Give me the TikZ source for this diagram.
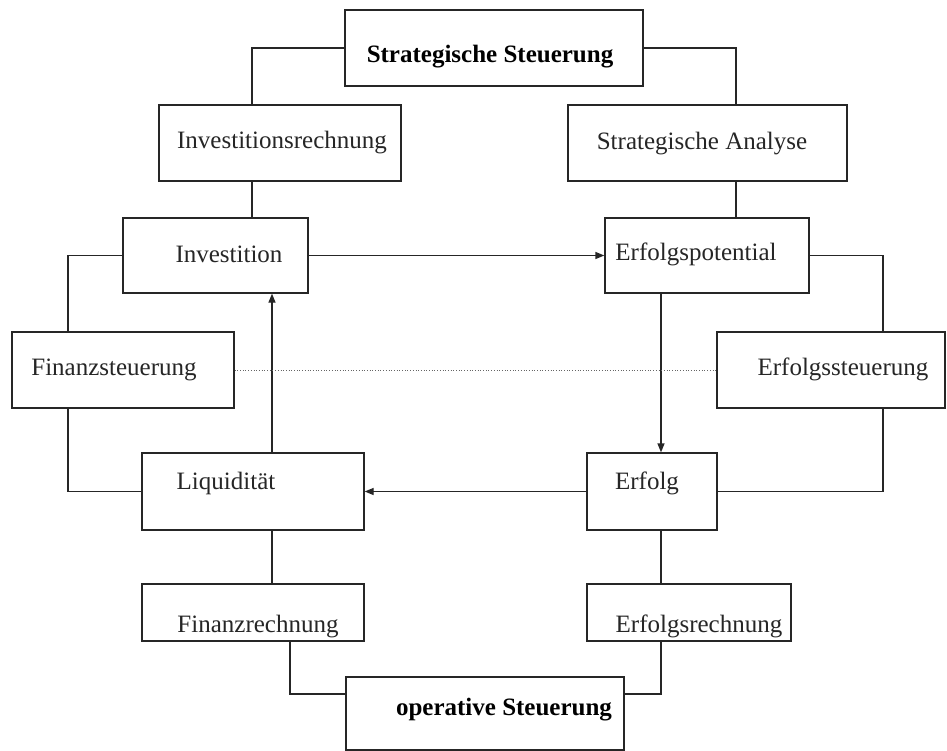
\documentclass[tikz,border=0pt]{standalone}
\usepackage{fontspec}
\setmainfont{Liberation Serif}
\usetikzlibrary{arrows.meta}
\begin{document}
\begin{tikzpicture}[x=1pt,y=-1pt,
  box/.style={draw=black!85,line width=1.3pt,rectangle,inner sep=0pt},
  lbl/.style={anchor=base,inner sep=0pt,font=\fontsize{25}{30}\selectfont,text=black!85},
  blbl/.style={lbl,font=\fontsize{25}{30}\selectfont\bfseries,text=black},
  conn/.style={draw=black!85,line width=1.3pt},
  arr/.style={conn,-{Triangle[length=9pt,width=7pt]}},
  dot/.style={draw=black!60,line width=0.7pt,dotted}]
\useasboundingbox (0,0) rectangle (947,751);
\fill[white] (0,0) rectangle (947,751);

% boxes
\node[box,minimum width=298pt,minimum height=76pt] (ss) at (494,48) {};
\node[box,minimum width=242pt,minimum height=76pt] (ir) at (280,143) {};
\node[box,minimum width=279pt,minimum height=76pt] (sa) at (707.5,143) {};
\node[box,minimum width=185pt,minimum height=75pt] (inv) at (215.5,255.5) {};
\node[box,minimum width=204pt,minimum height=75pt] (ep) at (707,255.5) {};
\node[box,minimum width=222pt,minimum height=76pt] (fs) at (123,370) {};
\node[box,minimum width=228pt,minimum height=76pt] (es) at (831,370) {};
\node[box,minimum width=222pt,minimum height=77pt] (liq) at (253,491.5) {};
\node[box,minimum width=130pt,minimum height=77pt] (erf) at (652,491.5) {};
\node[box,minimum width=222pt,minimum height=57pt] (fr) at (253,612.5) {};
\node[box,minimum width=204pt,minimum height=57pt] (er) at (689,612.5) {};
\node[box,minimum width=278pt,minimum height=73pt] (os) at (485,713.5) {};

% texts
\node[blbl] (t-ss) at (490,63) {Strategische Steuerung};
\node[lbl] (t-ir) at (282,149) {Investitionsrechnung};
\node[lbl] (t-sa) at (702,150) {Strategische Analyse};
\node[lbl] (t-inv) at (229,262) {Investition};
\node[lbl] (t-ep) at (696,261) {Erfolgspotential};
\node[lbl] (t-fs) at (114,375) {Finanzsteuerung};
\node[lbl] (t-es) at (843,375) {Erfolgssteuerung};
\node[lbl] (t-liq) at (226,489) {Liquidität};
\node[lbl] (t-erf) at (647,489) {Erfolg};
\node[lbl] (t-fr) at (258,632) {Finanzrechnung};
\node[lbl] (t-er) at (699,632) {Erfolgsrechnung};
\node[blbl] (t-os) at (504,715) {operative Steuerung};

% connectors
\draw[conn] (ss.west) -| ([xshift=-28pt]ir.north);
\draw[conn] (ss.east) -| ([xshift=28.5pt]sa.north);
\draw[conn] ([xshift=-28pt]ir.south) -- ([xshift=-28pt]ir.south |- inv.north);
\draw[conn] ([xshift=28.5pt]sa.south) -- ([xshift=28.5pt]sa.south |- ep.north);
\draw[conn] (inv.west) -| ([xshift=-55pt]fs.north);
\draw[conn] (ep.east) -| ([xshift=52pt]es.north);
\draw[conn] ([xshift=-55pt]fs.south) |- (liq.west);
\draw[conn] ([xshift=52pt]es.south) |- (erf.east);
\draw[conn] ([xshift=19pt]liq.south) -- ([xshift=19pt]liq.south |- fr.north);
\draw[conn] ([xshift=9pt]erf.south) -- ([xshift=9pt]erf.south |- er.north);
\draw[conn] ([xshift=37pt]fr.south) |- ([yshift=19.5pt]os.west);
\draw[conn] ([xshift=-28pt]er.south) |- ([yshift=19.5pt]os.east);

% arrows
\draw[arr] (inv.east) -- (ep.west);
\draw[arr] ([xshift=-46pt]ep.south) -- ([xshift=-46pt]ep.south |- erf.north);
\draw[arr] (erf.west) -- (liq.east);
\draw[arr] ([xshift=19pt]liq.north) -- ([xshift=19pt]liq.north |- inv.south);

% dotted link
\draw[dot] (fs.east) -- (es.west);
\end{tikzpicture}
\end{document}
